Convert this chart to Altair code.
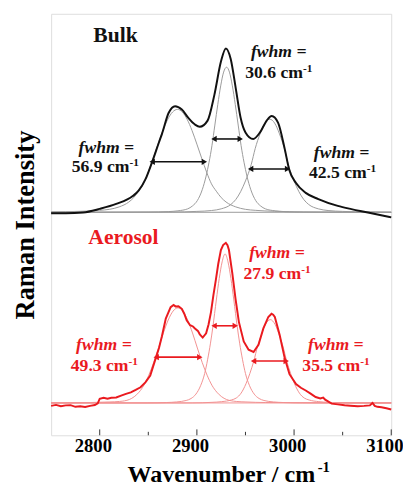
import altair as alt
import pandas as pd

# ---------------- data ----------------
BULK_OFFSET = 227.5   # vertical offset of the bulk spectrum (a.u.)
AERO_OFFSET = 33.0    # vertical offset of the aerosol spectrum (a.u.)

bulk_total_wn = [2750, 2765, 2783, 2800, 2817, 2834, 2840, 2847, 2854, 2861, 2864, 2871, 2877.5,
                 2884.5, 2891, 2898, 2903, 2911, 2918, 2924.7, 2929.8, 2934.8, 2940, 2945, 2950,
                 2958, 2965, 2972, 2977, 2983.5, 2990, 2995, 3002, 3012, 3025, 3045, 3059, 3076, 3100]
bulk_total_h = [-1, -1, -0.2, 3.5, 8.5, 16.5, 22, 33.5, 51.5, 71.5, 79.8, 101.5, 108.2,
                104.8, 96.5, 89.5, 87.2, 93.5, 119.8, 153.5, 167.2, 156.5, 126.5, 96.5, 81.5,
                74.8, 81.5, 93.8, 98.2, 91.5, 66.5, 43.5, 29.8, 19.8, 13.5, 6.5, 3.2, -0.2, -5.2]

bulk_c1_wn = [2750, 2780, 2800, 2810, 2820, 2830, 2835, 2840, 2845, 2850, 2855, 2860, 2865, 2870,
              2875, 2880, 2885, 2890, 2895, 2900, 2905, 2910, 2915, 2920, 2925, 2930, 2940, 2950,
              2960, 2980, 3010, 3100]
bulk_c1_h = [0.4, 1, 2, 3, 5.5, 10.5, 15, 21.5, 29, 41, 55, 69.5, 83.4, 94.8,
             102.3, 105, 102.3, 94.8, 83.4, 69.5, 55, 41, 29, 21.5, 15, 10.5, 5.5, 3,
             2, 1, 0.4, 0]

bulk_c2_wn = [2750, 2850.5, 2870.5, 2880.5, 2890.5, 2895.5, 2900.5, 2905.5, 2909.5, 2912.5, 2915.5,
              2918.5, 2921.5, 2924.5, 2927.5, 2930.5, 2933.5, 2936.5, 2939.5, 2942.5, 2945.5,
              2948.5, 2951.5, 2955.5, 2960.5, 2965.5, 2970.5, 2980.5, 2990.5, 3010.5, 3100]
bulk_c2_h = [0, 0.2, 0.7, 1.5, 3.5, 6.5, 12, 23, 37, 51, 68,
             89, 110, 129, 143, 148, 143, 129, 110, 89, 68,
             51, 37, 23, 12, 6.5, 3.5, 1.5, 0.7, 0.2, 0]

bulk_c3_wn = [2750, 2875, 2900, 2915, 2925, 2935, 2940, 2945, 2950, 2956, 2960, 2965, 2970, 2975,
              2980, 2985, 2990, 2994, 3000, 3005, 3010, 3015, 3025, 3035, 3050, 3075, 3100]
bulk_c3_h = [0, 0.3, 0.9, 1.8, 3.5, 8, 13, 21, 32, 49, 65, 80, 91, 95,
             91, 80, 65, 49, 32, 21, 13, 8, 3.5, 1.8, 0.9, 0.3, 0.1]

aero_total_wn = [2750, 2755, 2760, 2765, 2770, 2775, 2780, 2785, 2790, 2795, 2798, 2800, 2804, 2808,
                 2812, 2817, 2822, 2827, 2832, 2837, 2842, 2847, 2852, 2858, 2861, 2864, 2868, 2873,
                 2876, 2878, 2881, 2884.5, 2887, 2889.5, 2893, 2896, 2898, 2901, 2903, 2906, 2909.5,
                 2912, 2914.5, 2917, 2919.6, 2922, 2924.7, 2927, 2929.8, 2931.5, 2933, 2936.4, 2939.8,
                 2943.2, 2948.2, 2953.2, 2958.3, 2963.4, 2968.4, 2973.5, 2976.8, 2978.5, 2980.2,
                 2985.2, 2990.3, 2995.3, 3002, 3007, 3012, 3017, 3022.2, 3027, 3030, 3032, 3038.7,
                 3045, 3052, 3058, 3065.5, 3072, 3078, 3080.7, 3083, 3085.8, 3090, 3095, 3100]
aero_total_h = [-3, -2, -3.3, -2.5, -2.3, -4, -3.5, -4.2, -3, -2.2, -0.5, 4.3, 5.3, 4.2,
                5.2, 5.5, 7.5, 9.3, 10.8, 13.3, 16, 21, 28, 46.7, 56, 68, 86, 97.7,
                100, 98.5, 98.7, 96, 91, 84.3, 79.3, 78, 76, 73.5, 70, 66.7, 71,
                80, 92.7, 110, 126, 142, 156, 161, 163.3, 161, 156, 132.7, 106,
                82.7, 62.7, 54.3, 52, 59.3, 76, 87.7, 91, 90, 87.7,
                69.3, 46, 29.3, 19.3, 15.5, 12.7, 9.5, 6, 4.5, 5.5, 3.3, -0.7,
                -1.5, -2.3, -2.8, -3.3, -3, -2.5, 0, -3, -4, -4.5, -5.5, -6.7]

aero_c1_wn = [2750, 2790.5, 2810.5, 2820.5, 2830.5, 2835.5, 2840.5, 2845.5, 2850.5, 2855.5, 2860.5,
              2865.5, 2870.5, 2875.5, 2880.5, 2885.5, 2890.5, 2895.5, 2900.5, 2905.5, 2910.5,
              2915.5, 2920.5, 2925.5, 2930.5, 2940.5, 2950.5, 2970.5, 3100]
aero_c1_h = [0, 0.4, 1, 1.5, 3.5, 6.3, 11, 18, 28.3, 41.2, 56,
             71.3, 84.6, 93.7, 97, 93.7, 84.6, 71.3, 56, 41.2, 28.3,
             18, 11, 6.3, 3.5, 1.5, 1, 0.4, 0]

aero_c2_wn = [2750, 2849, 2869, 2879, 2889, 2894, 2899, 2904, 2908, 2911, 2914, 2916.5, 2920, 2923,
              2926, 2929, 2932, 2935, 2938, 2941.5, 2944, 2947, 2950, 2954, 2959, 2964, 2969, 2979,
              2989, 3009, 3100]
aero_c2_h = [0, 0, 0.4, 1, 2.5, 4.5, 9, 18, 30, 44, 61, 78, 105, 127,
             144, 152, 144, 127, 105, 78, 61, 44, 30, 18, 9, 4.5, 2.5, 1,
             0.4, 0, 0]

aero_c3_wn = [2750, 2895.5, 2915.5, 2925.5, 2935.5, 2940.5, 2945.5, 2950.5, 2954.5, 2958.5, 2962.5,
              2965.5, 2970.5, 2975.5, 2980.5, 2985.5, 2988.5, 2992.5, 2996.5, 3000.5, 3005.5,
              3010.5, 3015.5, 3025.5, 3035.5, 3055.5, 3100]
aero_c3_h = [0, 0, 0.6, 1.3, 3, 5, 10, 19.5, 30, 42.5, 58,
             67, 80, 85, 80, 67, 58, 42.5, 30, 19.5, 10,
             5, 3, 1.3, 0.6, 0, 0]

bulk_fwhm = [56.9, 30.6, 42.5]
aero_fwhm = [49.3, 27.9, 35.5]

# fwhm arrows (start wavenumber, end wavenumber, intensity level)
bulk_arrow_x1 = [2854, 2917.6, 2955.3]
bulk_arrow_x2 = [2907.7, 2944.6, 2993.3]
bulk_arrow_y = [279, 302.3, 271.7]
aero_arrow_x1 = [2858.1, 2917.7, 2958.3]
aero_arrow_x2 = [2903, 2939.5, 2991.9]
aero_arrow_y = [79.7, 111.7, 75.7]

major_ticks = [2800, 2900, 3000, 3100]
minor_ticks = [2850, 2950, 3050]

# ---------------- styling ----------------
BLACK = "#111111"
GRAY = "#9a9a9a"
RED = "#ea1a1f"
PINK = "#f29090"
SERIF = "Liberation Serif"


def curve(wn, h, offset, name):
    return pd.DataFrame({"wn": wn, "I": [v + offset for v in h], "curve": name})


bulk_total = curve(bulk_total_wn, bulk_total_h, BULK_OFFSET, "bulk")
aero_total = curve(aero_total_wn, aero_total_h, AERO_OFFSET, "aero")
bulk_comps = pd.concat([
    curve(bulk_c1_wn, bulk_c1_h, BULK_OFFSET, "c1"),
    curve(bulk_c2_wn, bulk_c2_h, BULK_OFFSET, "c2"),
    curve(bulk_c3_wn, bulk_c3_h, BULK_OFFSET, "c3"),
])
aero_comps = pd.concat([
    curve(aero_c1_wn, aero_c1_h, AERO_OFFSET, "c1"),
    curve(aero_c2_wn, aero_c2_h, AERO_OFFSET, "c2"),
    curve(aero_c3_wn, aero_c3_h, AERO_OFFSET, "c3"),
])
baselines = pd.DataFrame({"I": [BULK_OFFSET, AERO_OFFSET], "color": [GRAY, PINK]})

arrows = pd.DataFrame({
    "x1": bulk_arrow_x1 + aero_arrow_x1,
    "x2": bulk_arrow_x2 + aero_arrow_x2,
    "I": bulk_arrow_y + aero_arrow_y,
    "color": [BLACK] * 3 + [RED] * 3,
})

group_labels = pd.DataFrame({"wn": [2793.4, 2788.3], "I": [401.3, 195],
                             "text": ["Bulk", "Aerosol"], "color": [BLACK, RED]})
fwhm_labels = pd.DataFrame({"wn": [2806.8, 2984.2, 3048.9, 2804.3, 2982.4, 3043],
                            "I": [288.3, 385.7, 283.3, 87.3, 181.3, 87.3],
                            "color": [BLACK] * 3 + [RED] * 3})
value_labels = pd.DataFrame({"wn": [2771.2, 2949.7, 3015.3, 2770.2, 2948, 3008.5],
                             "I": [268.3, 364, 262.3, 65.7, 159, 65.7],
                             "text": [f"{v} cm" for v in bulk_fwhm + aero_fwhm],
                             "color": [BLACK] * 3 + [RED] * 3})
ticks_major = pd.DataFrame({"wn": major_ticks})
ticks_minor = pd.DataFrame({"wn": minor_ticks})

# ---------------- scales / axes ----------------
x_scale = alt.Scale(domain=[2750, 3100], nice=False, zero=False)
y_scale = alt.Scale(domain=[0, 430], nice=False, zero=False)
x_axis = alt.Axis(values=major_ticks, format="d", ticks=False, domain=False, grid=False, title=None,
                  labelFont=SERIF, labelFontWeight="bold", labelFontSize=19, labelColor="black",
                  labelPadding=2, labelOffset=-7, labelFlush=False, labelOverlap=False)
y_axis = alt.Axis(labels=False, ticks=False, domain=False, grid=False, title="Raman Intensity",
                  titleFont=SERIF, titleFontSize=27, titleFontWeight="bold", titleColor="black",
                  titlePadding=12)


def X(field):
    return alt.X(field, type="quantitative", scale=x_scale, axis=x_axis)


def Y(field):
    return alt.Y(field, type="quantitative", scale=y_scale, axis=y_axis)


col = alt.Color("color:N", scale=None)

base_lines = alt.Chart(baselines).mark_rule(strokeWidth=1).encode(y=Y("I"), color=col)

bulk_comp_layer = alt.Chart(bulk_comps).mark_line(color=GRAY, strokeWidth=1, interpolate="monotone").encode(
    x=X("wn"), y=Y("I"), detail="curve:N")
aero_comp_layer = alt.Chart(aero_comps).mark_line(color=PINK, strokeWidth=1, interpolate="monotone").encode(
    x=X("wn"), y=Y("I"), detail="curve:N")
bulk_total_layer = alt.Chart(bulk_total).mark_line(color=BLACK, strokeWidth=2, interpolate="monotone").encode(
    x=X("wn"), y=Y("I"))
aero_total_layer = alt.Chart(aero_total).mark_line(color=RED, strokeWidth=2, interpolate="linear").encode(
    x=X("wn"), y=Y("I"))

arrow_lines = alt.Chart(arrows).mark_rule(strokeWidth=1.6).encode(
    x=X("x1"), x2="x2", y=Y("I"), color=col)
arrow_left = alt.Chart(arrows).mark_point(shape="triangle-left", filled=True, size=40, opacity=1).encode(
    x=X("x1"), y=Y("I"), color=col)
arrow_right = alt.Chart(arrows).mark_point(shape="triangle-right", filled=True, size=40, opacity=1).encode(
    x=X("x2"), y=Y("I"), color=col)

group_text = alt.Chart(group_labels).mark_text(font=SERIF, fontWeight="bold", fontSize=22,
                                               align="left", baseline="alphabetic").encode(
    x=X("wn"), y=Y("I"), text="text:N", color=col)
fwhm_text = alt.Chart(fwhm_labels).mark_text(font=SERIF, fontWeight="bold", fontStyle="italic",
                                             fontSize=18, align="center", baseline="alphabetic",
                                             text="fwhm =").encode(
    x=X("wn"), y=Y("I"), color=col)
value_text = alt.Chart(value_labels).mark_text(font=SERIF, fontWeight="bold", fontSize=18,
                                               align="left", baseline="alphabetic").encode(
    x=X("wn"), y=Y("I"), text="text:N", color=col)
value_sup = alt.Chart(value_labels).mark_text(font=SERIF, fontWeight="bold", fontSize=11.5,
                                              align="left", baseline="alphabetic", dx=59, dy=-6.5,
                                              text="-1").encode(
    x=X("wn"), y=Y("I"), color=col)

tick_major_layer = alt.Chart(ticks_major).mark_rule(color="#333333", strokeWidth=1).encode(
    x=X("wn"), y=alt.value(430), y2=alt.value(424))
tick_minor_layer = alt.Chart(ticks_minor).mark_rule(color="#333333", strokeWidth=1).encode(
    x=X("wn"), y=alt.value(430), y2=alt.value(426.5))

x_title = alt.Chart(pd.DataFrame({"t": ["Wavenumber / cm"]})).mark_text(
    font=SERIF, fontWeight="bold", fontSize=24.5, align="left", baseline="alphabetic", color="black"
).encode(x=alt.value(78), y=alt.value(478), text="t:N")
x_title_sup = alt.Chart(pd.DataFrame({"t": ["-1"]})).mark_text(
    font=SERIF, fontWeight="bold", fontSize=15, align="left", baseline="alphabetic", color="black"
).encode(x=alt.value(272), y=alt.value(467), text="t:N")

chart = alt.layer(
    base_lines, bulk_comp_layer, aero_comp_layer, bulk_total_layer, aero_total_layer,
    arrow_lines, arrow_left, arrow_right,
    group_text, fwhm_text, value_text, value_sup,
    tick_major_layer, tick_minor_layer, x_title, x_title_sup,
).properties(
    width=347, height=430,
    autosize=alt.AutoSizeParams(type="none"),
    padding={"left": 44, "top": 1, "right": 12, "bottom": 55},
).configure_view(stroke="#333333", strokeWidth=1.2).configure(background="white")

chart.save("out.html", embed_options={"renderer": "svg", "actions": False})
